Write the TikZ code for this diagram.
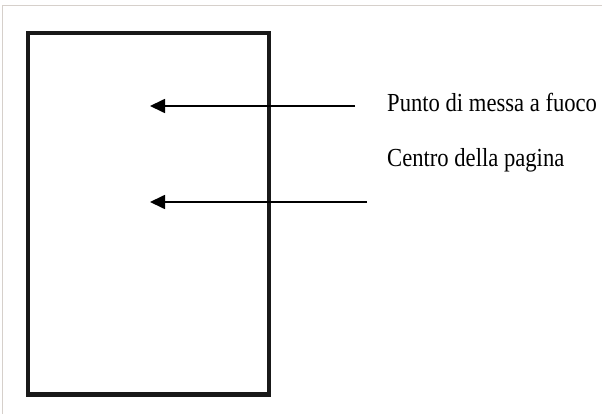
\documentclass[tikz,border=0pt]{standalone}
\usepackage{fontspec}
\usepackage{xcolor}
\usepackage{tikz}
\usetikzlibrary{arrows.meta, positioning, calc}
\newfontfamily\labelfont[FakeStretch=0.87]{Liberation Serif}
\definecolor{framegrey}{RGB}{214,208,203}

\begin{document}
\begin{tikzpicture}[x=1pt,y=-1pt,
    pagebox/.style={rectangle,draw=black!90,line width=4.5pt,minimum width=241pt,minimum height=361.5pt,inner sep=0pt},
    pointer/.style={draw=black,line width=1.7pt,-{Triangle[length=15pt,width=14pt]}},
    caption/.style={font=\labelfont\fontsize{26}{30}\selectfont,anchor=base west,inner sep=0pt}]
    \useasboundingbox (0,0) rectangle (602,414);
    \draw[framegrey,line width=1pt] (2.5,414) -- (2.5,6) -- (602,6);
    \node[pagebox] (page) at (148.5,213.75) {};
    \coordinate (focusStart) at (355,106);
    \coordinate (focusEnd) at (150,106);
    \coordinate (centerStart) at (367,202);
    \coordinate (centerEnd) at (150,202);
    \draw[pointer] (focusStart) -- (focusEnd);
    \draw[pointer] (centerStart) -- (centerEnd);
    \node[caption] (focus) at (387,112) {Punto di messa a fuoco};
    \node[caption] (center) at (387,167) {Centro della pagina};
\end{tikzpicture}
\end{document}
